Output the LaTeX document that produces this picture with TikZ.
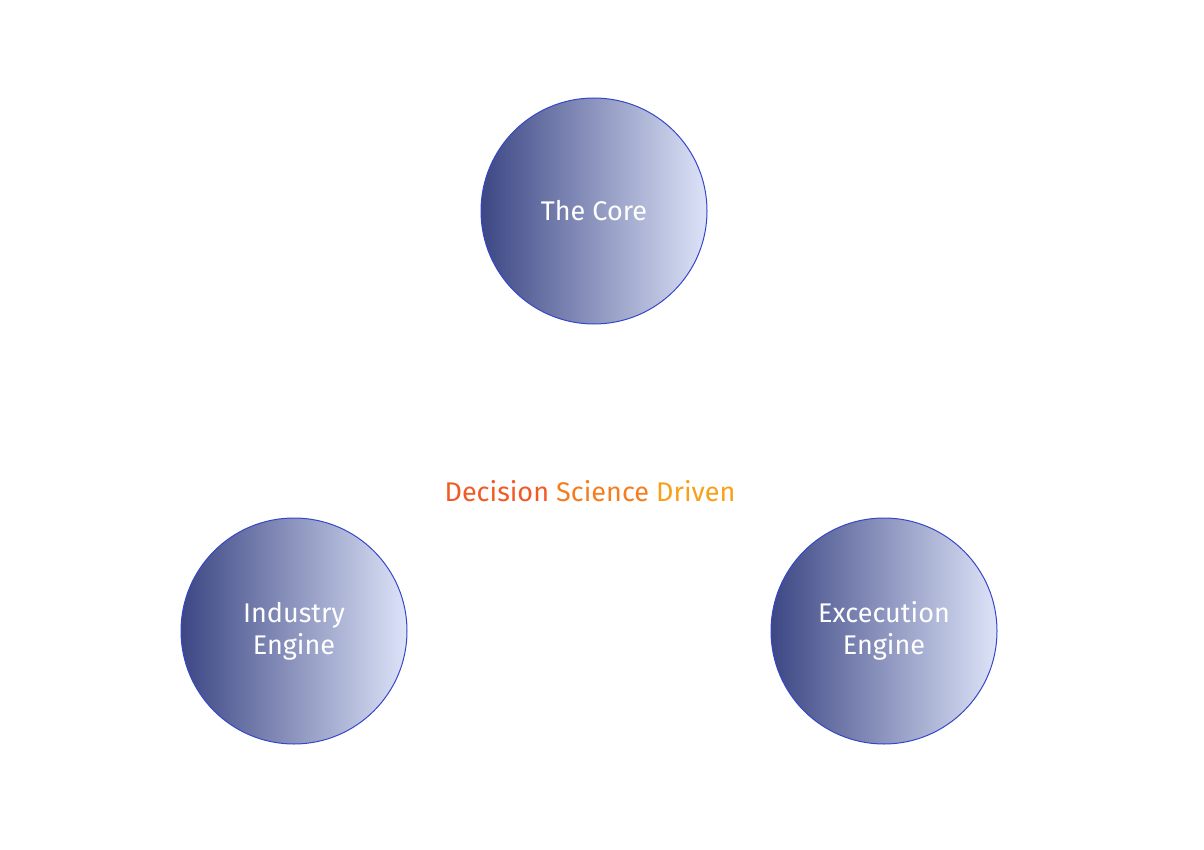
\documentclass[tikz,border=0pt]{standalone}
\usepackage{fontspec}
\setmainfont{Fira Sans}
\definecolor{cdark}{HTML}{3C4784}
\definecolor{clight}{HTML}{DDE3F8}
\definecolor{cedge}{HTML}{3547C8}
\definecolor{oA}{HTML}{F15A24}
\definecolor{oB}{HTML}{F57C1F}
\definecolor{oC}{HTML}{F8A01A}
\begin{document}
\begin{tikzpicture}[x=1pt,y=-1pt,
  ball/.style={circle,minimum size=226pt,inner sep=0pt,draw=cedge,line width=1pt,
    left color=cdark,right color=clight,text=white,font=\fontsize{27}{32}\selectfont,align=center}]
\useasboundingbox (0,0) rectangle (1204,850);
\node[ball] (core) at (594,211) {The Core};
\node[ball] (ind) at (294,631) {Industry\\Engine};
\node[ball] (exe) at (884,631) {Excecution\\Engine};
\node[font=\fontsize{27}{32}\selectfont] (ds) at (590,491) {\textcolor{oA}{Decision} \textcolor{oB}{Science} \textcolor{oC}{Driven}};
\end{tikzpicture}
\end{document}
